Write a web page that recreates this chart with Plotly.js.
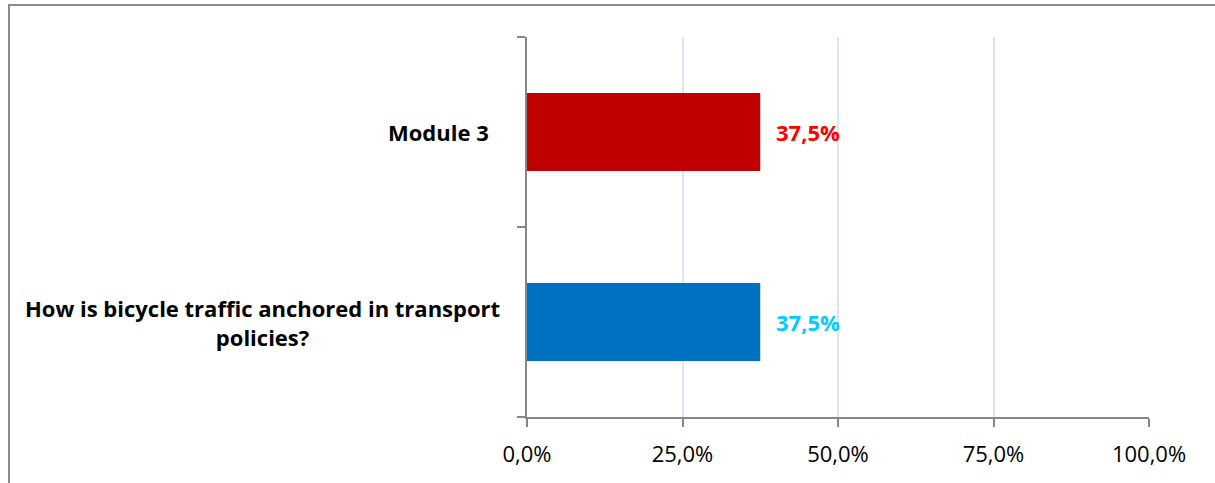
<!DOCTYPE html>
<html>
<head>
<meta charset="utf-8">
<script src="https://cdn.plot.ly/plotly-3.0.1.min.js"></script>
<style>
  html, body { margin: 0; padding: 0; background: #fff; }
  #chart { position: absolute; left: 0; top: 0; width: 1215px; height: 483px; }
  #frame { position: absolute; left: 8px; top: 4px; width: 1215px; height: 483px;
           border-top: 2px solid #8a8a8a; border-left: 2px solid #8a8a8a; pointer-events: none; }
</style>
</head>
<body>
<div id="chart"></div>
<div id="frame"></div>
<script>
// Data (bottom category first)
const categories = ['How is bicycle traffic anchored in transport<br>policies?', 'Module 3'];
const values = [0.375, 0.375];
const xTickValues = [0, 0.25, 0.5, 0.75, 1.0];
const xTickLabels = ['0,0%', '25,0%', '50,0%', '75,0%', '100,0%'];

// Styles
const barColors = ['#0070c0', '#c00000'];
const labelColors = ['#00ccff', '#ff0000'];
const catLabelShift = [0, -11];
const FONT = '"Open Sans", sans-serif';

const trace = {
  type: 'bar',
  orientation: 'h',
  y: categories,
  x: values,
  width: 0.41,
  marker: { color: barColors },
  hoverinfo: 'none'
};

const annotations = [];
categories.forEach((c, i) => {
  annotations.push({
    xref: 'paper', yref: 'y', x: -0.0402, y: c,
    xanchor: 'right', yanchor: 'middle', align: 'center',
    xshift: catLabelShift[i],
    text: '<b>' + c + '</b>', showarrow: false,
    font: { family: FONT, size: 22, color: '#000' }
  });
  annotations.push({
    xref: 'x', yref: 'y', x: values[i], y: c,
    xanchor: 'left', yanchor: 'middle', xshift: 14,
    text: '<b>' + (values[i] * 100).toFixed(1).replace('.', ',') + '%</b>', showarrow: false,
    font: { family: FONT, size: 22, color: labelColors[i] }
  });
});

const layout = {
  width: 1215, height: 483,
  margin: { l: 527, r: 66, t: 37, b: 66 },
  paper_bgcolor: '#fff', plot_bgcolor: '#fff',
  showlegend: false,
  font: { family: FONT, size: 22, color: '#000' },
  xaxis: {
    range: [0, 1], tickvals: xTickValues, ticktext: xTickLabels,
    showgrid: true, gridcolor: '#dce6f2', gridwidth: 2, zeroline: false,
    showline: true, linecolor: '#868686', linewidth: 2,
    ticks: 'outside', ticklen: 8, tickwidth: 2, tickcolor: '#868686',
    ticklabelstandoff: 9,
    tickfont: { family: FONT, size: 22, color: '#000' },
    fixedrange: true
  },
  yaxis: {
    type: 'category', categoryarray: categories, range: [-0.5, 1.5],
    showgrid: false, zeroline: false,
    showline: true, linecolor: '#868686', linewidth: 2,
    ticks: 'outside', tickson: 'boundaries', ticklen: 8, tickwidth: 2, tickcolor: '#868686',
    showticklabels: false, fixedrange: true
  },
  annotations: annotations
};

Plotly.newPlot('chart', [trace], layout, { displayModeBar: false, staticPlot: true });
</script>
</body>
</html>
